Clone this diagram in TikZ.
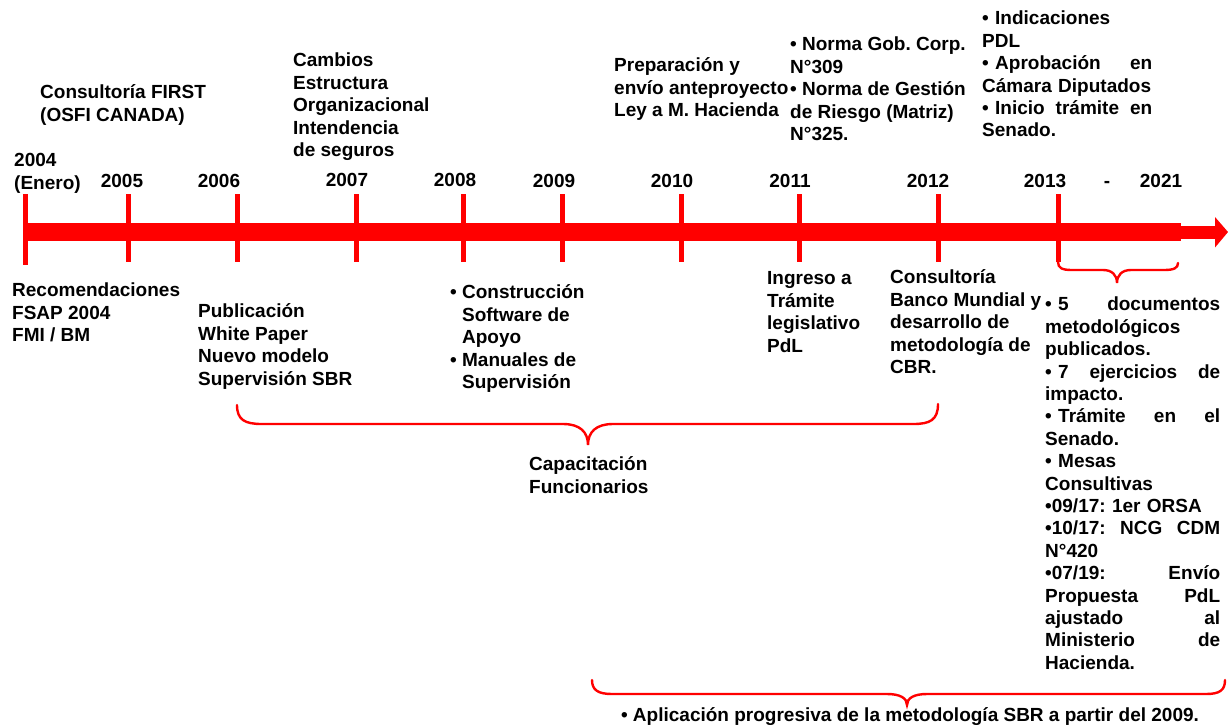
\documentclass[tikz,border=0pt]{standalone}
\usepackage{fontspec}
\setmainfont{Liberation Sans}
\frenchspacing
\hyphenpenalty=10000
\exhyphenpenalty=10000
\begin{document}
\begin{tikzpicture}[x=1pt,y=-1pt,
  txt/.style={anchor=north west, inner sep=0pt, align=left, text=black,
    font=\bfseries\fontsize{19}{22.4}\selectfont},
  yr/.style={anchor=base, inner sep=0pt, text=black,
    font=\bfseries\fontsize{19}{22.4}\selectfont},
  tick/.style={draw=red, line width=5pt},
  brace/.style={draw=red, line width=2.4pt, line cap=round}]
\useasboundingbox (0,0) rectangle (1228,724);
\fill[white] (0,0) rectangle (1228,724);

% timeline bar
\fill[red] (25,222.5) rectangle (1181,241);
\fill[red] (1180,225.5) rectangle (1216,239);
\fill[red] (1215,217) -- (1228,232) -- (1215,247.5) -- cycle;

% ticks
\foreach \x in {128,237,356,463,562,681,799,938,1058}
  \draw[tick] (\x,194) -- (\x,262);
\draw[tick] (25.5,194) -- (25.5,265);

% year labels
\node[txt] (y2004) at (14,151) {\strut 2004\\(Enero)};
\node[yr] (y2005) at (122,187) {2005};
\node[yr] (y2006) at (219,187) {2006};
\node[yr] (y2007) at (347,186) {2007};
\node[yr] (y2008) at (455,186) {2008};
\node[yr] (y2009) at (554,187) {2009};
\node[yr] (y2010) at (672,187) {2010};
\node[yr] (y2011) at (790,187) {2011};
\node[yr] (y2012) at (928,187) {2012};
\node[yr] (y2013) at (1045,187) {2013};
\node[yr] (ydash) at (1107,187) {-};
\node[yr] (y2021) at (1161,187) {2021};

% upper texts
\node[txt] (first) at (40,83) {\strut Consultoría FIRST\\(OSFI CANADA)};
\node[txt] (cambios) at (293,51) {\strut Cambios\\Estructura\\Organizacional\\Intendencia\\de seguros};
\node[txt] (prep) at (614,56) {\strut Preparación y\\envío anteproyecto\\Ley a M. Hacienda};
\node[txt] (norma) at (790,35) {\strut • Norma Gob. Corp.\\N°309\\• Norma de Gestión\\de Riesgo (Matriz)\\N°325.};
\node[txt, text width=170pt] (indic) at (982,9) {\strut • Indicaciones\\PDL\\• Aprobación\hfill en\\Cámara Diputados\\• Inicio\hfill trámite\hfill en\\Senado.};

% lower texts
\node[txt] (recom) at (12,281) {\strut Recomendaciones\\FSAP 2004\\FMI / BM};
\node[txt] (publ) at (198,302) {\strut Publicación\\White Paper\\Nuevo modelo\\Supervisión SBR};
\node[txt] (constr) at (450,283) {\strut • Construcción\\\phantom{• }Software de\\\phantom{• }Apoyo\\• Manuales de\\\phantom{• }Supervisión};
\node[txt] (ingreso) at (767,269) {\strut Ingreso a\\Trámite\\legislativo\\PdL};
\node[txt] (banco) at (890,268) {\strut Consultoría\\Banco Mundial y\\desarrollo de\\metodología de\\CBR.};
\node[txt, text width=175pt] (docs) at (1045,295) {\strut • 5\hfill documentos\\metodológicos\\publicados.\\• 7\hfill ejercicios\hfill de\\impacto.\\• Trámite\hfill en\hfill el\\Senado.\\• Mesas\\Consultivas\\•09/17: 1er ORSA\\•10/17:\hfill NCG\hfill CDM\\N°420\\•07/19:\hfill Envío\\Propuesta\hfill PdL\\ajustado\hfill al\\Ministerio\hfill de\\Hacienda.};
\node[txt] (capac) at (529,455) {\strut Capacitación\\Funcionarios};
\node[yr] (aplic) at (910,721) {• Aplicación progresiva de la metodología SBR a partir del 2009.};

% braces
\draw[brace] (237,405) .. controls (237,420) and (245,424) .. (262,424)
  -- (563,424) .. controls (580,424) and (588,432) .. (588,445)
  .. controls (588,432) and (596,424) .. (613,424)
  -- (913,424) .. controls (930,424) and (938,420) .. (938,404);
\draw[brace] (1058,262) .. controls (1058,268) and (1062,270) .. (1072,270)
  -- (1103,270) .. controls (1112,270) and (1117,275) .. (1117,283)
  .. controls (1117,275) and (1122,270) .. (1131,270)
  -- (1164,270) .. controls (1174,270) and (1178,268) .. (1178,263);
\draw[brace] (592,680) .. controls (592,690) and (598,694) .. (612,694)
  -- (887,694) .. controls (900,694) and (907,698) .. (907,705)
  .. controls (907,698) and (914,694) .. (927,694)
  -- (1206,694) .. controls (1220,694) and (1225,690) .. (1225,680);
\end{tikzpicture}
\end{document}
